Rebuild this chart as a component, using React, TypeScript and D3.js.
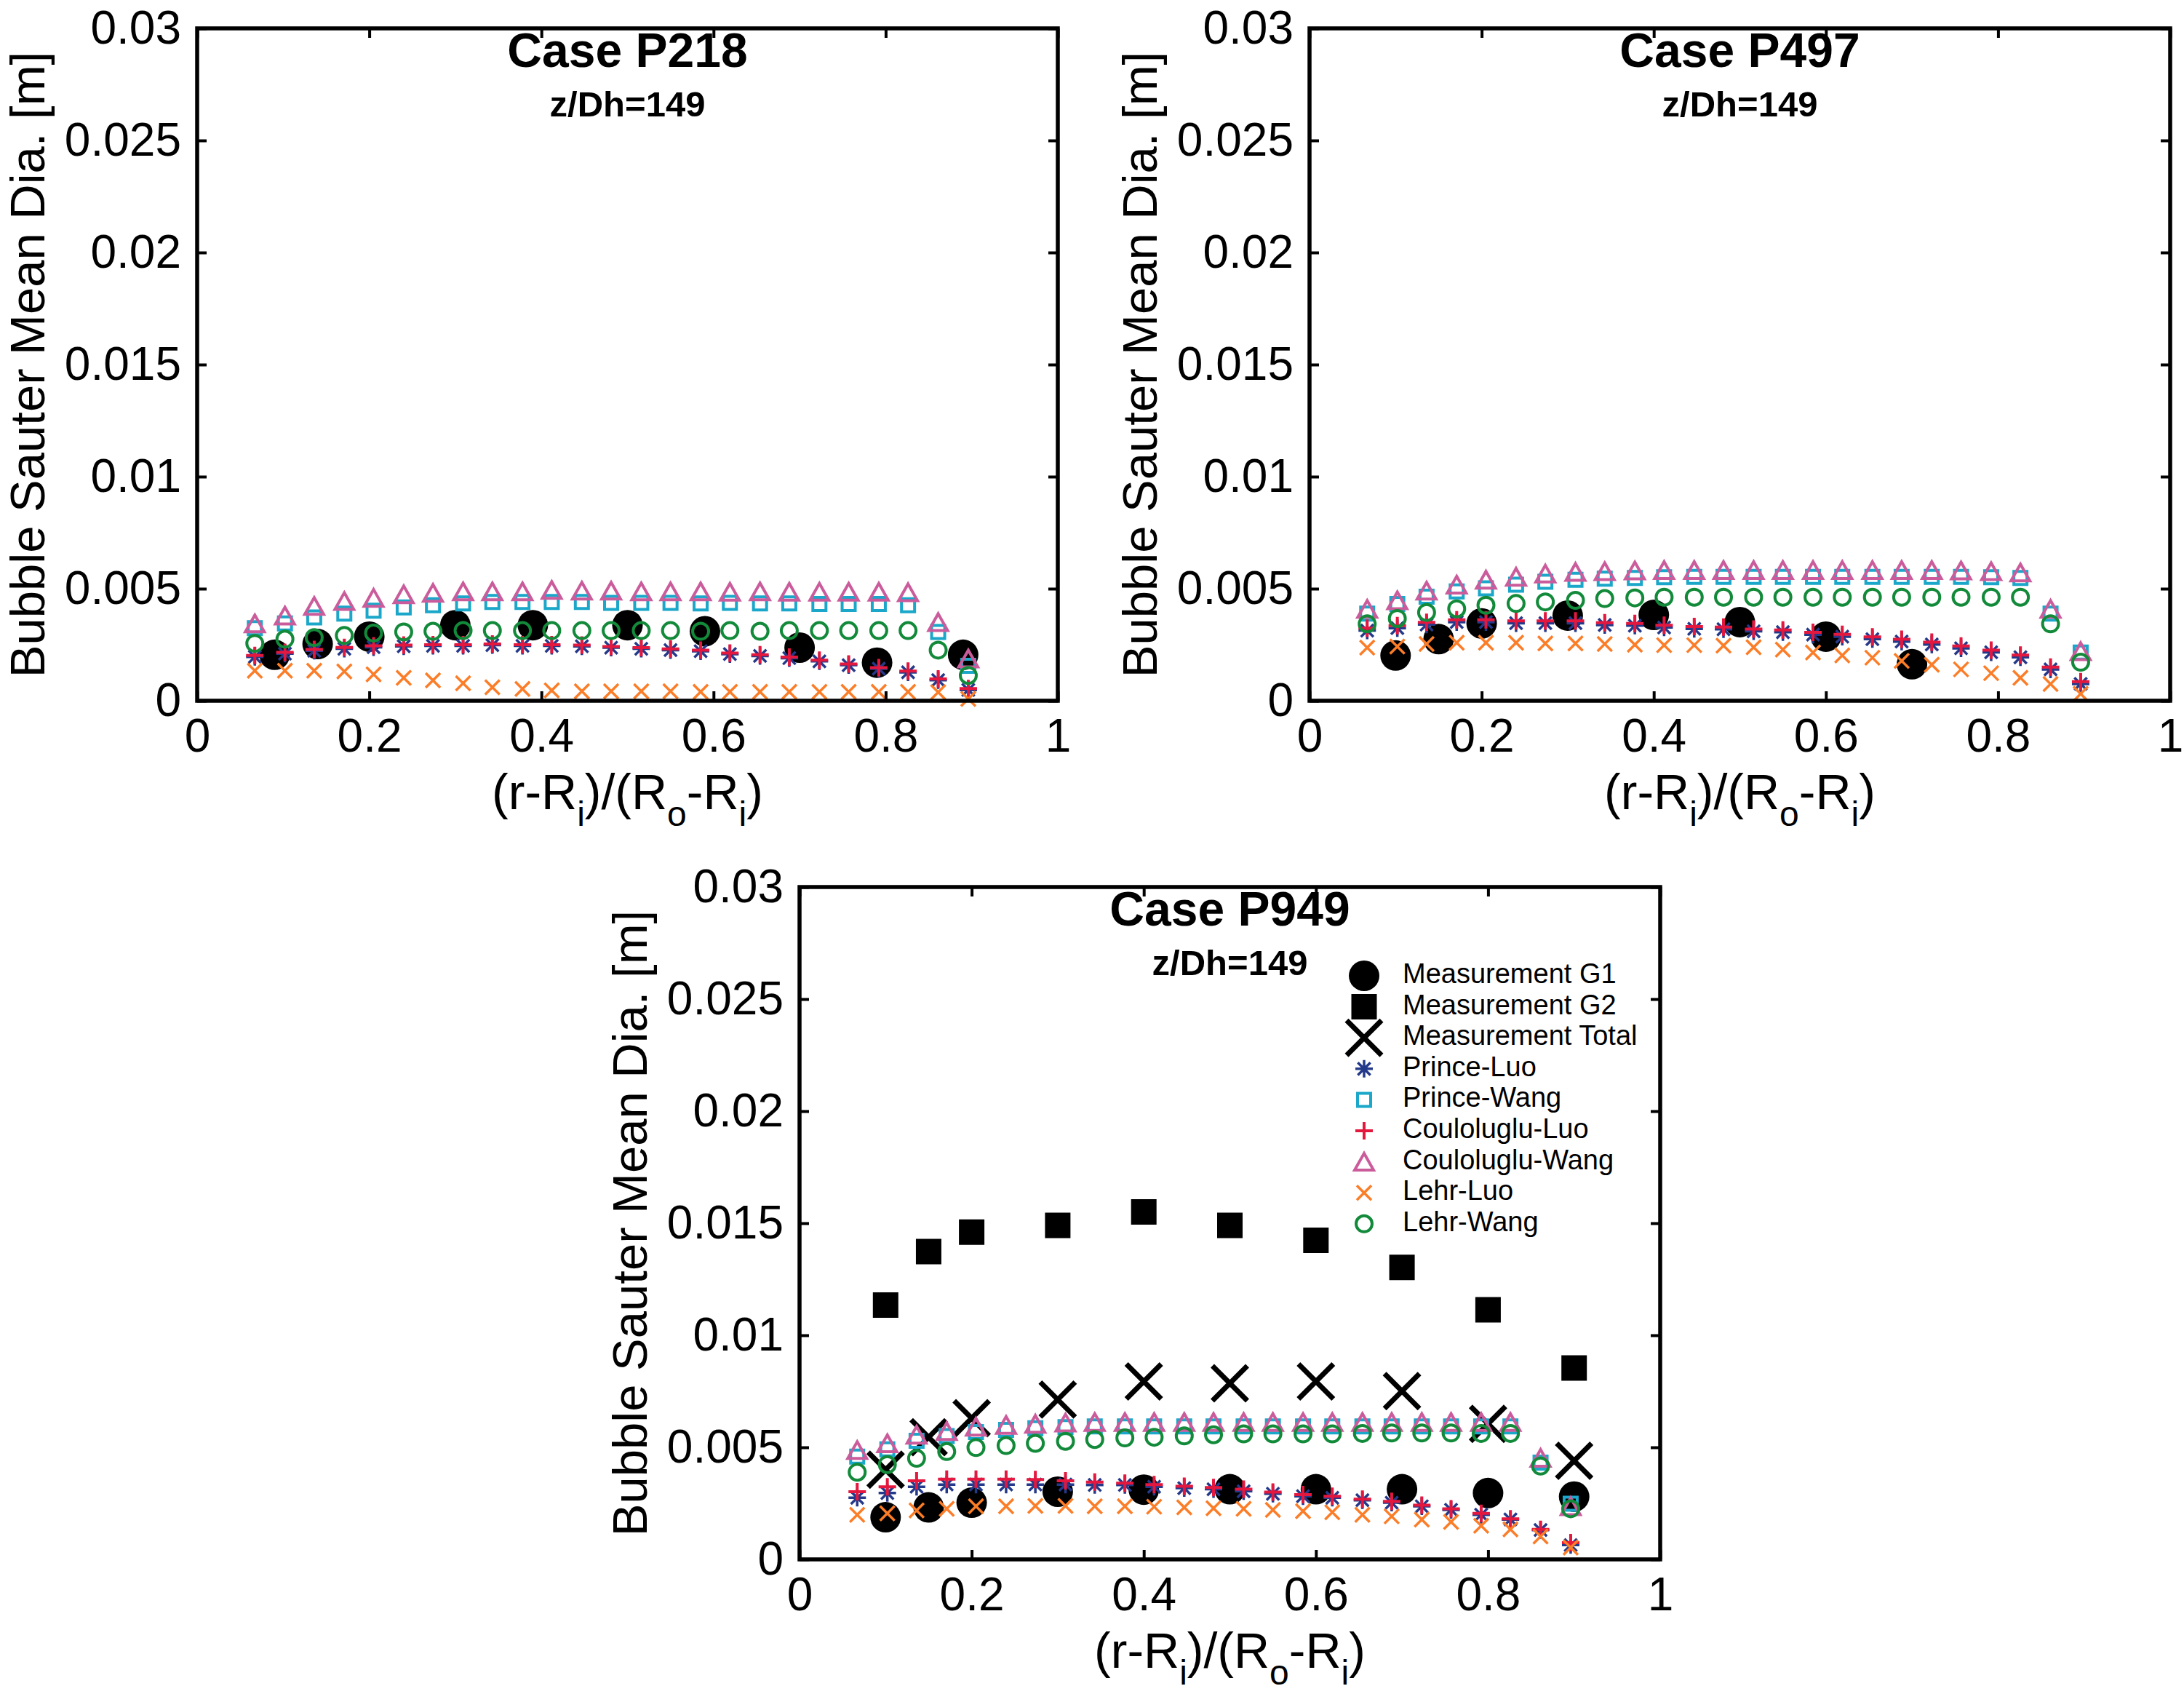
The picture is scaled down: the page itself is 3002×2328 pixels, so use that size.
import * as d3 from "d3";
import { useEffect, useRef } from "react";

const W = 3002;
const H = 2328;
const PW = 1183;
const PH = 924;
const FONT = "'Liberation Sans', Arial, Helvetica, sans-serif";

const xTicks = [0, 0.2, 0.4, 0.6, 0.8, 1];
const yTicks = [0, 0.005, 0.01, 0.015, 0.02, 0.025, 0.03];

// radial positions of the model cells
const modelR = [
  0.067, 0.102, 0.136, 0.171, 0.205, 0.24, 0.274, 0.309, 0.343, 0.378, 0.412, 0.447, 0.481,
  0.516, 0.55, 0.585, 0.619, 0.654, 0.688, 0.723, 0.757, 0.792, 0.826, 0.861, 0.896,
];

// all diameters below in mm
// Case P218
const g1R218 = [0.09, 0.14, 0.2, 0.3, 0.39, 0.5, 0.59, 0.7, 0.79, 0.89];
const g1P218 = [2.05, 2.53, 2.86, 3.37, 3.37, 3.37, 3.1, 2.37, 1.7, 2.05];
const plP218 = [1.96, 2.1, 2.23, 2.32, 2.39, 2.43, 2.45, 2.45, 2.48, 2.45, 2.45, 2.43, 2.37, 2.32, 2.26, 2.21, 2.08, 2.0, 1.9, 1.76, 1.59, 1.43, 1.27, 0.92, 0.48];
const pwP218 = [3.24, 3.45, 3.72, 3.89, 4.02, 4.16, 4.26, 4.34, 4.41, 4.41, 4.41, 4.41, 4.37, 4.37, 4.37, 4.34, 4.37, 4.34, 4.34, 4.32, 4.32, 4.32, 4.26, 3.07, 1.56];
const clP218 = [2.02, 2.16, 2.29, 2.38, 2.45, 2.48, 2.5, 2.5, 2.53, 2.5, 2.5, 2.48, 2.42, 2.37, 2.31, 2.26, 2.13, 2.05, 1.95, 1.81, 1.64, 1.48, 1.32, 0.97, 0.54];
const cwP218 = [3.45, 3.8, 4.23, 4.45, 4.59, 4.75, 4.81, 4.88, 4.88, 4.88, 4.94, 4.91, 4.91, 4.88, 4.88, 4.88, 4.86, 4.88, 4.86, 4.86, 4.86, 4.86, 4.84, 3.51, 1.88];
const llP218 = [1.34, 1.34, 1.34, 1.31, 1.18, 1.02, 0.91, 0.78, 0.6, 0.53, 0.46, 0.42, 0.42, 0.42, 0.42, 0.4, 0.4, 0.4, 0.4, 0.4, 0.4, 0.4, 0.4, 0.38, 0.08];
const lwP218 = [2.56, 2.75, 2.82, 2.91, 3.02, 3.07, 3.1, 3.13, 3.13, 3.13, 3.13, 3.13, 3.13, 3.13, 3.13, 3.1, 3.13, 3.1, 3.13, 3.13, 3.13, 3.13, 3.13, 2.26, 1.13];

// Case P497
const g1R497 = [0.1, 0.15, 0.2, 0.3, 0.4, 0.5, 0.6, 0.7];
const g1P497 = [2.02, 2.75, 3.45, 3.8, 3.83, 3.51, 2.86, 1.63];
const plP497 = [3.13, 3.24, 3.4, 3.51, 3.51, 3.46, 3.46, 3.46, 3.38, 3.35, 3.27, 3.21, 3.19, 3.1, 3.06, 2.95, 2.86, 2.75, 2.64, 2.51, 2.34, 2.16, 1.94, 1.4, 0.75];
const pwP497 = [3.89, 4.32, 4.64, 4.88, 5.02, 5.18, 5.31, 5.4, 5.45, 5.48, 5.51, 5.53, 5.53, 5.53, 5.53, 5.53, 5.53, 5.53, 5.53, 5.53, 5.53, 5.51, 5.48, 3.89, 2.15];
const clP497 = [3.24, 3.35, 3.5, 3.61, 3.61, 3.56, 3.56, 3.56, 3.48, 3.45, 3.37, 3.31, 3.29, 3.2, 3.16, 3.05, 2.96, 2.85, 2.74, 2.61, 2.44, 2.26, 2.04, 1.5, 0.85];
const cwP497 = [4.1, 4.48, 4.91, 5.18, 5.4, 5.53, 5.67, 5.75, 5.78, 5.81, 5.83, 5.83, 5.83, 5.83, 5.83, 5.83, 5.83, 5.83, 5.83, 5.83, 5.81, 5.78, 5.72, 4.1, 2.21];
const llP497 = [2.37, 2.42, 2.53, 2.59, 2.59, 2.59, 2.56, 2.56, 2.53, 2.5, 2.48, 2.48, 2.46, 2.39, 2.28, 2.15, 2.02, 1.92, 1.78, 1.61, 1.4, 1.23, 1.02, 0.75, 0.31];
const lwP497 = [3.43, 3.67, 3.94, 4.1, 4.26, 4.34, 4.41, 4.48, 4.56, 4.59, 4.62, 4.62, 4.62, 4.62, 4.62, 4.62, 4.62, 4.62, 4.62, 4.62, 4.62, 4.62, 4.62, 3.43, 1.72];

// Case P949
const measR949 = [0.1, 0.15, 0.2, 0.3, 0.4, 0.5, 0.6, 0.7, 0.8, 0.9];
const g1P949 = [1.88, 2.32, 2.53, 3.02, 3.11, 3.13, 3.13, 3.13, 2.96, 2.8];
const g2P949 = [11.35, 13.73, 14.6, 14.9, 15.5, 14.9, 14.24, 13.03, 11.14, 8.54];
const totP949 = [4.0, 5.45, 6.3, 7.13, 7.94, 7.86, 7.94, 7.51, 6.05, 4.4];
const plP949 = [2.75, 2.96, 3.24, 3.34, 3.34, 3.34, 3.34, 3.34, 3.32, 3.32, 3.24, 3.18, 3.13, 3.04, 2.93, 2.82, 2.75, 2.64, 2.53, 2.37, 2.21, 1.99, 1.78, 1.31, 0.64];
const pwP949 = [4.59, 4.91, 5.29, 5.5, 5.68, 5.78, 5.85, 5.9, 5.93, 5.93, 5.93, 5.93, 5.93, 5.93, 5.93, 5.93, 5.93, 5.93, 5.93, 5.93, 5.93, 5.93, 5.93, 4.32, 2.48];
const clP949 = [3.02, 3.24, 3.51, 3.58, 3.58, 3.58, 3.56, 3.51, 3.45, 3.4, 3.34, 3.26, 3.21, 3.13, 3.0, 2.89, 2.82, 2.69, 2.59, 2.42, 2.26, 2.05, 1.81, 1.34, 0.75];
const cwP949 = [4.88, 5.18, 5.56, 5.72, 5.92, 6.0, 6.05, 6.1, 6.13, 6.13, 6.13, 6.13, 6.13, 6.13, 6.13, 6.13, 6.13, 6.13, 6.13, 6.13, 6.13, 6.13, 6.13, 4.53, 2.37];
const llP949 = [1.99, 2.05, 2.18, 2.26, 2.37, 2.37, 2.39, 2.39, 2.37, 2.37, 2.35, 2.32, 2.28, 2.26, 2.21, 2.15, 2.1, 1.99, 1.92, 1.78, 1.67, 1.5, 1.34, 1.02, 0.53];
const lwP949 = [3.89, 4.23, 4.51, 4.81, 4.99, 5.08, 5.18, 5.27, 5.35, 5.42, 5.45, 5.51, 5.56, 5.6, 5.6, 5.6, 5.6, 5.62, 5.64, 5.64, 5.64, 5.62, 5.62, 4.16, 2.26];

const legendNames = [
  "Measurement G1",
  "Measurement G2",
  "Measurement Total",
  "Prince-Luo",
  "Prince-Wang",
  "Couloluglu-Luo",
  "Couloluglu-Wang",
  "Lehr-Luo",
  "Lehr-Wang",
];
const legendKeys = ["g1", "g2", "tot", "pl", "pw", "cl", "cw", "ll", "lw"];

type Marker = { d: string; fill: string; stroke: string; sw: number };

const circle = (r: number) => d3.symbol(d3.symbolCircle, Math.PI * r * r)()!;
const square = (s: number) => `M${-s / 2},${-s / 2}H${s / 2}V${s / 2}H${-s / 2}Z`;
const tri = (w: number, h: number) => `M0,${-h / 2}L${w / 2},${h / 2}L${-w / 2},${h / 2}Z`;
const plus = (s: number) => `M${-s},0H${s}M0,${-s}V${s}`;
const cross = (s: number) => `M${-s},${-s}L${s},${s}M${-s},${s}L${s},${-s}`;
const star = (s: number) => plus(s) + cross(s * 0.72);

const MARKERS: Record<string, Marker> = {
  g1: { d: circle(21), fill: "#000", stroke: "none", sw: 0 },
  g2: { d: square(35), fill: "#000", stroke: "none", sw: 0 },
  tot: { d: cross(24), fill: "none", stroke: "#000", sw: 7 },
  pl: { d: star(12), fill: "none", stroke: "#24398a", sw: 3.5 },
  pw: { d: square(18), fill: "none", stroke: "#1aa7c9", sw: 4 },
  cl: { d: plus(12), fill: "none", stroke: "#e4173e", sw: 4 },
  cw: { d: tri(26, 23), fill: "none", stroke: "#cb5c9c", sw: 4 },
  ll: { d: cross(10), fill: "none", stroke: "#fb7d28", sw: 3.5 },
  lw: { d: circle(11), fill: "none", stroke: "#128a3a", sw: 4 },
};

type Series = { key: string; r: number[]; v: number[] };
type Panel = { title: string; left: number; top: number; series: Series[]; legend: boolean };

const panels: Panel[] = [
  {
    title: "Case P218",
    left: 271,
    top: 39,
    legend: false,
    series: [
      { key: "g1", r: g1R218, v: g1P218 },
      { key: "pl", r: modelR, v: plP218 },
      { key: "pw", r: modelR, v: pwP218 },
      { key: "cl", r: modelR, v: clP218 },
      { key: "cw", r: modelR, v: cwP218 },
      { key: "ll", r: modelR, v: llP218 },
      { key: "lw", r: modelR, v: lwP218 },
    ],
  },
  {
    title: "Case P497",
    left: 1800,
    top: 39,
    legend: false,
    series: [
      { key: "g1", r: g1R497, v: g1P497 },
      { key: "pl", r: modelR, v: plP497 },
      { key: "pw", r: modelR, v: pwP497 },
      { key: "cl", r: modelR, v: clP497 },
      { key: "cw", r: modelR, v: cwP497 },
      { key: "ll", r: modelR, v: llP497 },
      { key: "lw", r: modelR, v: lwP497 },
    ],
  },
  {
    title: "Case P949",
    left: 1099,
    top: 1219,
    legend: true,
    series: [
      { key: "g1", r: measR949, v: g1P949 },
      { key: "g2", r: measR949, v: g2P949 },
      { key: "tot", r: measR949, v: totP949 },
      { key: "pl", r: modelR, v: plP949 },
      { key: "pw", r: modelR, v: pwP949 },
      { key: "cl", r: modelR, v: clP949 },
      { key: "cw", r: modelR, v: cwP949 },
      { key: "ll", r: modelR, v: llP949 },
      { key: "lw", r: modelR, v: lwP949 },
    ],
  },
];

export default function App() {
  const ref = useRef<SVGSVGElement | null>(null);

  useEffect(() => {
    if (!ref.current) return;
    const svg = d3.select(ref.current);
    svg.selectAll("*").remove();
    svg.append("rect").attr("width", W).attr("height", H).attr("fill", "#fff");

    const x = d3.scaleLinear().domain([0, 1]).range([0, PW]);
    const y = d3.scaleLinear().domain([0, 0.03]).range([PH, 0]);
    const fmt = d3.format("~g");

    panels.forEach((p) => {
      const g = svg.append("g").attr("transform", `translate(${p.left},${p.top})`);

      // data markers
      p.series.forEach((s) => {
        const m = MARKERS[s.key];
        g.append("g")
          .selectAll("path")
          .data(s.v.map((v, i) => ({ r: s.r[i], v: v / 1000 })))
          .join("path")
          .attr("transform", (d) => `translate(${x(d.r)},${y(d.v)})`)
          .attr("d", m.d)
          .attr("fill", m.fill)
          .attr("stroke", m.stroke)
          .attr("stroke-width", m.sw);
      });

      // axes with inward ticks on all sides
      const style = (a: d3.Selection<SVGGElement, unknown, null, undefined>) => {
        a.select(".domain").remove();
        a.selectAll(".tick line").attr("stroke-width", 4);
        a.attr("font-size", 64).attr("font-family", FONT);
      };
      g.append("g")
        .attr("transform", `translate(0,${PH})`)
        .call(d3.axisBottom(x).tickValues(xTicks).tickSizeInner(-13).tickSizeOuter(0).tickPadding(25).tickFormat((d) => fmt(+d)))
        .call(style);
      g.append("g")
        .call(d3.axisLeft(y).tickValues(yTicks).tickSizeInner(-13).tickSizeOuter(0).tickPadding(22).tickFormat((d) => fmt(+d)))
        .call(style);
      g.append("g")
        .call(d3.axisTop(x).tickValues(xTicks).tickSizeInner(-13).tickSizeOuter(0).tickFormat(() => ""))
        .call(style);
      g.append("g")
        .attr("transform", `translate(${PW},0)`)
        .call(d3.axisRight(y).tickValues(yTicks).tickSizeInner(-13).tickSizeOuter(0).tickFormat(() => ""))
        .call(style);

      g.append("rect")
        .attr("width", PW)
        .attr("height", PH)
        .attr("fill", "none")
        .attr("stroke", "#000")
        .attr("stroke-width", 5.5);

      // titles
      g.append("text")
        .attr("x", PW / 2)
        .attr("y", 53)
        .attr("text-anchor", "middle")
        .attr("font-family", FONT)
        .attr("font-weight", "bold")
        .attr("font-size", 66)
        .text(p.title);
      g.append("text")
        .attr("x", PW / 2)
        .attr("y", 121)
        .attr("text-anchor", "middle")
        .attr("font-family", FONT)
        .attr("font-weight", "bold")
        .attr("font-size", 49)
        .text("z/Dh=149");

      // axis labels
      g.append("text")
        .attr("transform", `translate(-210,${PH / 2}) rotate(-90)`)
        .attr("text-anchor", "middle")
        .attr("font-family", FONT)
        .attr("font-size", 67)
        .text("Bubble Sauter Mean Dia. [m]");

      const xl = g
        .append("text")
        .attr("x", PW / 2)
        .attr("y", PH + 149)
        .attr("text-anchor", "middle")
        .attr("font-family", FONT)
        .attr("font-size", 68);
      const parts: [string, boolean][] = [
        ["(r-R", false],
        ["i", true],
        [")/(R", false],
        ["o", true],
        ["-R", false],
        ["i", true],
        [")", false],
      ];
      let shifted = false;
      parts.forEach(([t, sub]) => {
        const ts = xl.append("tspan").text(t);
        if (sub) {
          ts.attr("font-size", 48).attr("dy", shifted ? 0 : 23);
          shifted = true;
        } else {
          ts.attr("dy", shifted ? -23 : 0);
          shifted = false;
        }
      });

      if (p.legend) {
        const lg = svg.append("g").attr("font-family", FONT).attr("font-size", 38);
        legendKeys.forEach((k, i) => {
          const m = MARKERS[k];
          const by = 1351 + i * 42.6;
          lg.append("path")
            .attr("transform", `translate(1875,${by - 10})`)
            .attr("d", m.d)
            .attr("fill", m.fill)
            .attr("stroke", m.stroke)
            .attr("stroke-width", m.sw);
          lg.append("text").attr("x", 1928).attr("y", by).text(legendNames[i]);
        });
      }
    });
  }, []);

  return (
    <svg
      ref={ref}
      width={W}
      height={H}
      style={{ position: "absolute", left: 0, top: 0, display: "block" }}
    />
  );
}
